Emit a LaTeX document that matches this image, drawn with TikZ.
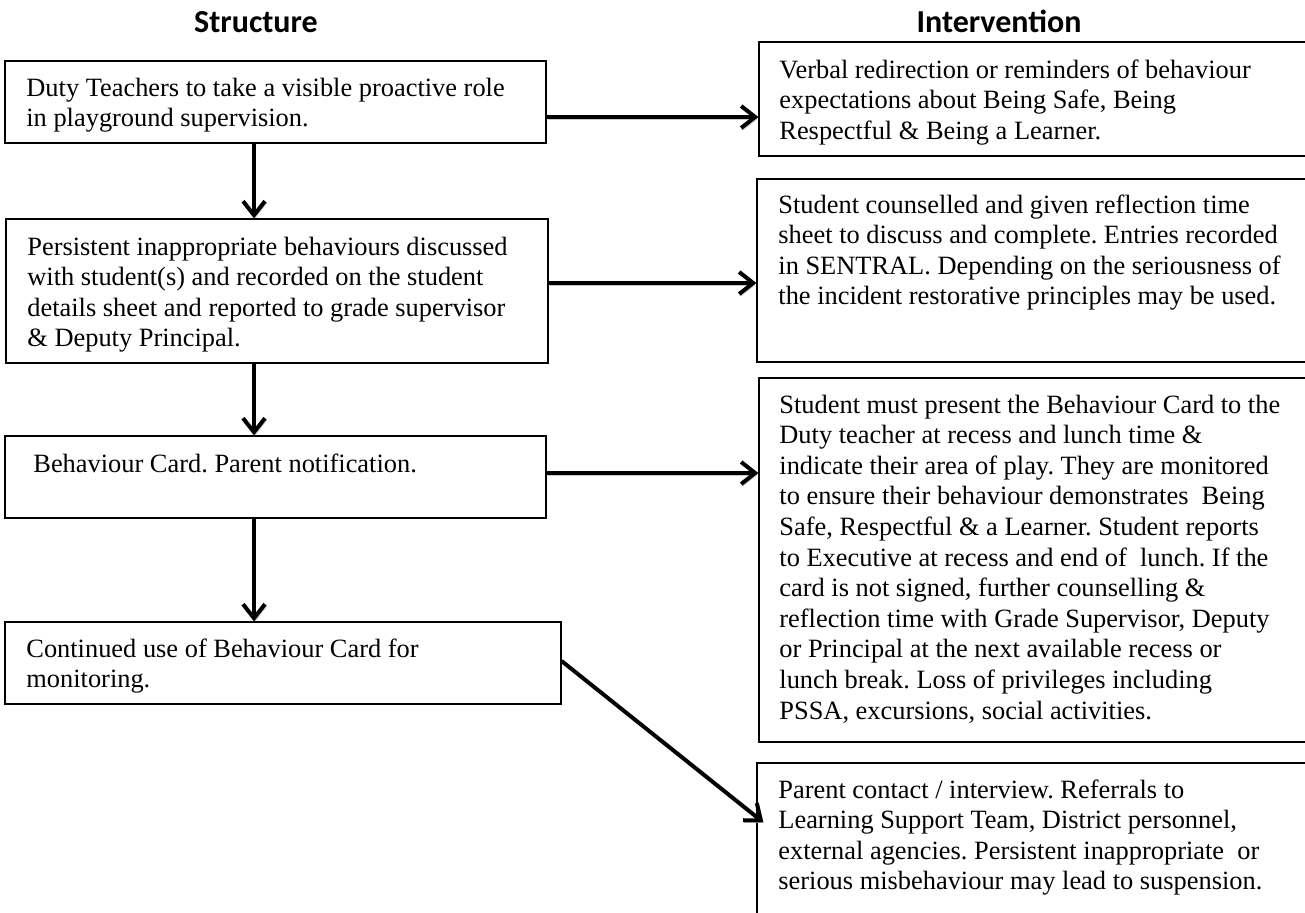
\documentclass[tikz,border=0pt]{standalone}
\usepackage{fontspec}
\setmainfont{Liberation Serif}
\newfontfamily\titlefont{Carlito}
\usetikzlibrary{arrows.meta}
\frenchspacing
\begin{document}
\begin{tikzpicture}[x=0.5pt,y=-0.5pt,
  box/.style={draw, line width=0.6pt, inner sep=0pt, rectangle},
  txt/.style={anchor=base west, inner sep=0pt, font=\fontsize{13.2}{15.3}\selectfont},
  ttl/.style={anchor=base, inner sep=0pt, font=\titlefont\bfseries\fontsize{16}{19}\selectfont},
  conn/.style={line width=2pt, -{Straight Barb[length=7pt,width=11pt]},
    preaction={draw=black!22, transform canvas={shift={(0.8pt,-1pt)}}}}]
\useasboundingbox[fill=white] (0,0) rectangle (1305,912);

% titles
\node[ttl] (S) at (256,32) {Structure};
\node[ttl] (I) at (999,32) {Intervention};

% left column boxes
\node[box, minimum width=270.5pt, minimum height=41pt] (L1) at (275.5,102) {};
\node[box, minimum width=271pt, minimum height=72pt] (L2) at (277,291) {};
\node[box, minimum width=270.5pt, minimum height=41pt] (L3) at (275.5,477) {};
\node[box, minimum width=278pt, minimum height=41pt] (L4) at (283,663) {};

% right column boxes
\node[box, minimum width=280.5pt, minimum height=57pt] (R1) at (1039.5,99) {};
\node[box, minimum width=281.5pt, minimum height=91.5pt] (R2) at (1038.5,270.5) {};
\node[box, minimum width=280.5pt, minimum height=182pt] (R4) at (1039.5,560) {};
\node[box, minimum width=281.5pt, minimum height=83.5pt] (R5) at (1038.5,846.5) {};

% texts
\node[txt] (tL1) at (26,96) {\parbox[t]{400pt}{\raggedright Duty Teachers to take a visible proactive role\\in playground supervision.}};
\node[txt] (tL2) at (27,255) {\parbox[t]{400pt}{\raggedright Persistent inappropriate behaviours discussed\\with student(s) and recorded on the student\\details sheet and reported to grade supervisor\\\& Deputy Principal.}};
\node[txt] (tL3) at (33,472) {\parbox[t]{400pt}{\raggedright Behaviour Card. Parent notification.}};
\node[txt] (tL4) at (26,657) {\parbox[t]{400pt}{\raggedright Continued use of Behaviour Card for\\monitoring.}};

\node[txt] (tR1) at (779,78) {\parbox[t]{400pt}{\raggedright Verbal redirection or reminders of behaviour\\expectations about Being Safe, Being\\Respectful \& Being a Learner.}};
\node[txt] (tR2) at (778,213) {\parbox[t]{400pt}{\raggedright Student counselled and given reflection time\\sheet to discuss and complete. Entries recorded\\in SENTRAL. Depending on the seriousness of\\the incident restorative principles may be used.}};
\node[txt] (tR4) at (779,413) {\parbox[t]{400pt}{\raggedright Student must present the Behaviour Card to the\\Duty teacher at recess and lunch time \&\\indicate their area of play. They are monitored\\to ensure their behaviour demonstrates~ Being\\Safe, Respectful \& a Learner. Student reports\\to Executive at recess and end of~ lunch. If the\\card is not signed, further counselling \&\\reflection time with Grade Supervisor, Deputy\\or Principal at the next available recess or\\lunch break. Loss of privileges including\\PSSA, excursions, social activities.}};
\node[txt] (tR5) at (778,798) {\parbox[t]{400pt}{\raggedright Parent contact / interview. Referrals to\\Learning Support Team, District personnel,\\external agencies. Persistent inappropriate~ or\\serious misbehaviour may lead to suspension.}};

% connectors
\coordinate (xc) at (254,0);
\draw[conn] (L1.south -| xc) -- (L2.north -| xc);
\draw[conn] (L2.south -| xc) -- (L3.north -| xc);
\draw[conn] (L3.south -| xc) -- (L4.north -| xc);
\draw[conn] ([yshift=-7.5pt]L1.east) coordinate (a1) -- (a1 -| R1.west);
\draw[conn] ([yshift=4pt]L2.east) coordinate (a2) -- (a2 -| R2.west);
\draw[conn] ([yshift=2pt]L3.east) coordinate (a3) -- (a3 -| R4.west);
\coordinate (a5) at ([xshift=3.5pt,yshift=-30pt]R5.north west);
\draw[conn] ([yshift=1pt]L4.east) -- (a5);
\end{tikzpicture}
\end{document}
